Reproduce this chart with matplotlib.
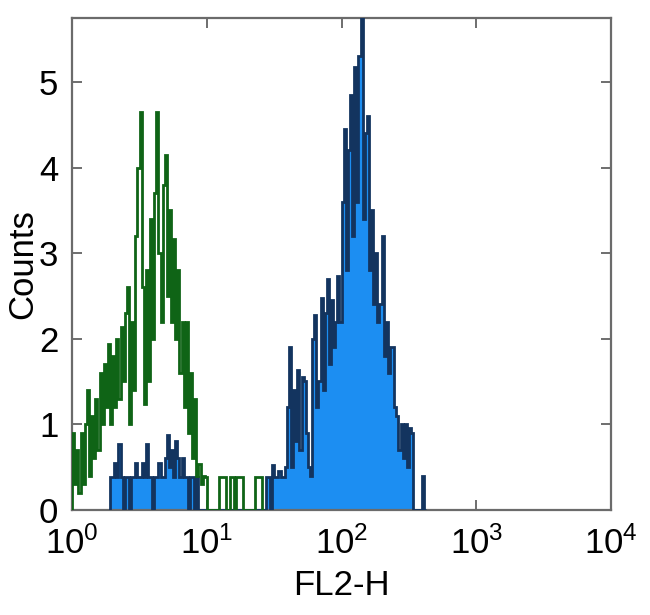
import numpy as np
import matplotlib
matplotlib.use('Agg')
import matplotlib.pyplot as plt

# histogram channels: 256 log channels over 4 decades (64 per decade)
n_chan = 256
decades = 4

# isotype control (green outline), channels starting at 0
green_start = 0
green_counts = [0.90, 0.30, 0.70, 0.20, 0.90, 0.30, 1.00, 1.40, 0.40, 1.10,
                0.60, 1.30, 0.70, 1.60, 1.00, 1.70, 1.20, 1.94, 1.00, 1.80,
                1.20, 2.00, 1.30, 2.14, 1.50, 2.30, 2.60, 1.00, 2.20, 1.40,
                3.20, 4.00, 4.65, 2.60, 1.24, 2.80, 1.50, 3.40, 2.00, 3.70,
                4.65, 3.00, 2.20, 3.80, 4.15, 2.50, 3.50, 2.20, 3.16, 2.00,
                2.80, 1.60, 2.20, 1.20, 2.20, 0.90, 1.60, 0.60, 1.30, 0.40,
                0.53, 0.30, 0.40, 0.38, 0.00, 0.00, 0.00, 0.00, 0.00, 0.00,
                0.38, 0.38, 0.38, 0.00, 0.00, 0.38, 0.38, 0.00, 0.38, 0.38,
                0.38, 0.00, 0.00, 0.00, 0.00, 0.00, 0.00, 0.38, 0.38, 0.38,
                0.00]

# stained sample (blue filled), channels starting at 18
blue_start = 18
blue_counts = [0.38, 0.38, 0.55, 0.38, 0.77, 0.38, 0.00, 0.38, 0.38, 0.00,
               0.38, 0.38, 0.55, 0.38, 0.38, 0.55, 0.38, 0.77, 0.38, 0.38,
               0.00, 0.38, 0.38, 0.55, 0.38, 0.38, 0.60, 0.88, 0.50, 0.70,
               0.38, 0.80, 0.60, 0.38, 0.60, 0.38, 0.38, 0.00, 0.38, 0.38,
               0.00, 0.38, 0.00, 0.00, 0.00, 0.00, 0.00, 0.00, 0.00, 0.00,
               0.00, 0.00, 0.00, 0.00, 0.00, 0.00, 0.00, 0.00, 0.00, 0.00,
               0.00, 0.00, 0.00, 0.00, 0.00, 0.00, 0.00, 0.00, 0.00, 0.00,
               0.00, 0.00, 0.00, 0.00, 0.38, 0.38, 0.00, 0.52, 0.38, 0.38,
               0.45, 0.38, 0.38,
               0.50, 1.20, 1.90, 0.50, 1.40, 0.80, 1.63, 0.70, 1.55, 1.50,
               0.90, 0.50, 0.40, 2.00, 2.28, 1.20, 1.50, 2.47, 1.40, 2.30,
               2.70, 1.70, 2.45, 1.90, 2.20, 2.73, 2.20, 3.60, 4.45, 2.80,
               4.20, 4.85, 3.20, 5.18, 3.60, 5.30, 5.80, 3.40, 4.40, 4.60,
               2.80, 3.50, 2.40, 3.00, 2.20, 2.40, 3.20, 1.80, 2.20, 1.60,
               1.90, 1.90, 1.20, 1.10, 0.70, 1.00, 0.60, 1.00, 0.50, 0.96,
               0.90, 0.00, 0.00, 0.00, 0.00, 0.40, 0.00]

x_ticks = [1, 10, 100, 1000, 10000]
y_ticks = [0, 1, 2, 3, 4, 5]

edges = 10 ** (np.arange(n_chan + 1) * decades / n_chan)

plt.rcParams['font.family'] = ['Liberation Sans', 'DejaVu Sans']
plt.rcParams['mathtext.fontset'] = 'custom'
plt.rcParams['mathtext.rm'] = 'Liberation Sans'

fig = plt.figure(figsize=(6.5, 6.15), dpi=100)
ax = fig.add_axes([0.111, 0.171, 0.829, 0.800])

g_edges = edges[green_start:green_start + len(green_counts) + 1]
b_edges = edges[blue_start:blue_start + len(blue_counts) + 1]

ax.stairs(blue_counts, b_edges, fill=True, color='#1c8ef2', zorder=2)
ax.stairs(blue_counts, b_edges, color='#13345f', lw=2.0, zorder=3)
ax.stairs(green_counts, g_edges, color='#0f6416', lw=2.0, zorder=4)

ax.set_xscale('log')
ax.set_xlim(1, 10000)
ax.set_ylim(0, 5.75)
ax.set_xticks(x_ticks)
ax.set_yticks(y_ticks)
ax.minorticks_off()
ax.tick_params(direction='in', length=7, width=1.2, color='#555555',
               top=True, right=True, labelsize=25)
ax.tick_params(axis='x', pad=12)
ax.tick_params(axis='y', pad=10)
for s in ax.spines.values():
    s.set_color('#6b6b6b')
    s.set_linewidth(1.6)

ax.set_xlabel('FL2-H', fontsize=25, labelpad=6)
ax.set_ylabel('Counts', fontsize=25, labelpad=0)

fig.savefig('out.png', dpi=100)
